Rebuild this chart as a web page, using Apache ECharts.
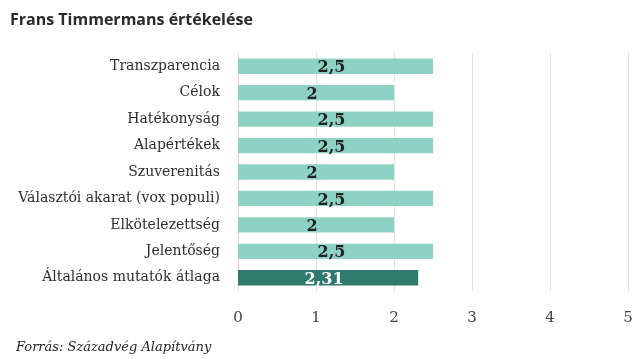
<!DOCTYPE html>
<html><head><meta charset="utf-8">
<script src="https://cdn.jsdelivr.net/npm/echarts@6/dist/echarts.min.js"></script>
<style>html,body{margin:0;padding:0;background:#fff}#c{width:644px;height:359px}</style>
</head><body><div id="c"></div>
<script>
var categories = ["Transzparencia","Célok","Hatékonyság","Alapértékek","Szuverenitás","Választói akarat (vox populi)","Elkötelezettség","Jelentőség","Általános mutatók átlaga"];
var values = [2.5,2,2.5,2.5,2,2.5,2,2.5,2.31];
var highlight = [false,false,false,false,false,false,false,false,true];
var xTicks = [0,1,2,3,4,5];

var chart = echarts.init(document.getElementById('c'));
var data = values.map(function(v,i){
  return {value:v, itemStyle:{color: highlight[i] ? '#2f7a6c' : '#8dd2c4'},
    label:{color: highlight[i] ? '#ffffff' : '#222222'}};
});
chart.setOption({
  animation:false,
  title:[{text:'Frans Timmermans értékelése', left:5, top:7,
    textStyle:{fontFamily:'Open Sans', fontWeight:'bold', fontSize:16, color:'#2a2a2a'}},
    {text:'Forrás: Századvég Alapítvány', left:11, top:336,
    textStyle:{fontFamily:'DejaVu Serif', fontStyle:'italic', fontWeight:'normal', fontSize:13, color:'#222'}}],
  grid:{left:238, right:16, top:53, bottom:68},
  xAxis:{type:'value', min:0, max:5, interval:1,
    axisLine:{show:false}, axisTick:{show:false},
    splitLine:{lineStyle:{color:'#e2e2e2'}},
    axisLabel:{margin:20, fontFamily:'DejaVu Serif', fontSize:15, color:'#444',
      formatter:function(v){return xTicks.indexOf(v)>=0 ? String(v) : '';}}},
  yAxis:{type:'category', data:categories, inverse:true,
    axisLine:{show:true, lineStyle:{color:'#e6d6d9'}}, axisTick:{show:false},
    axisLabel:{margin:18, fontFamily:'DejaVu Serif', fontSize:14, color:'#2e2e2e'}},
  series:[{type:'bar', data:data, barCategoryGap:'42%',
    label:{show:true, position:'inside', offset:[-4,2], fontFamily:'DejaVu Serif', fontWeight:'bold', fontSize:16,
      formatter:function(p){return String(p.value).replace('.',',');}}}]
});
</script></body></html>
